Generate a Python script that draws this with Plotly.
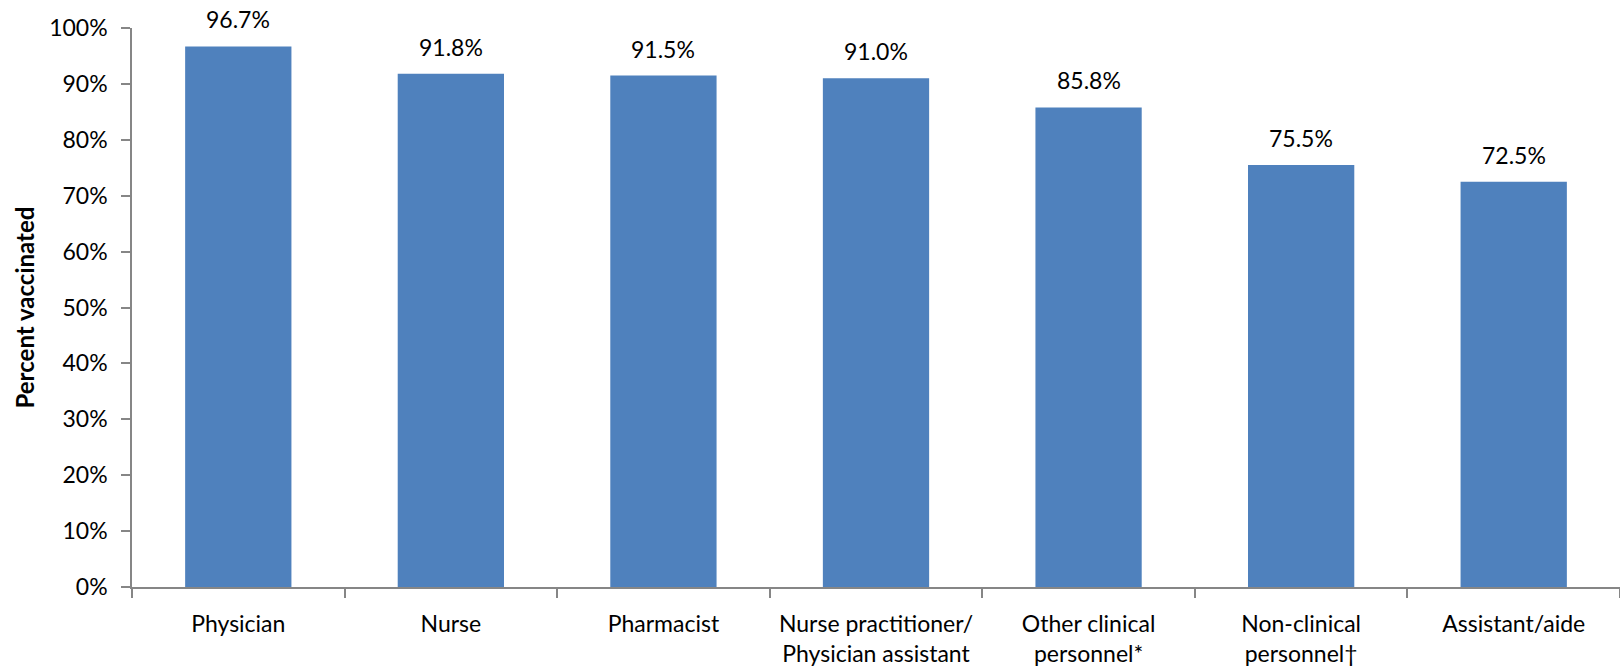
import plotly.graph_objects as go

categories = [
    "Physician",
    "Nurse",
    "Pharmacist",
    "Nurse practitioner/<br>Physician assistant",
    "Other clinical<br>personnel*",
    "Non-clinical<br>personnel\u2020",
    "Assistant/aide",
]
values = [96.7, 91.8, 91.5, 91.0, 85.8, 75.5, 72.5]
value_labels = ["96.7%", "91.8%", "91.5%", "91.0%", "85.8%", "75.5%", "72.5%"]
y_ticks = [0, 10, 20, 30, 40, 50, 60, 70, 80, 90, 100]
y_tick_labels = [f"{t}%" for t in y_ticks]
y_title = "Percent vaccinated"

FONT = "Lato"
FS = 23
fig = go.Figure()
fig.add_trace(go.Bar(
    x=categories, y=values,
    marker=dict(color="#4F81BD", line=dict(width=0)),
    hoverinfo="skip",
))
for c, v, t in zip(categories, values, value_labels):
    fig.add_annotation(x=c, y=v, text=t, showarrow=False, yanchor="bottom",
                       yshift=11, font=dict(family=FONT, size=FS, color="#000000"))

fig.add_annotation(xref="paper", yref="paper", x=0, y=0.5, xshift=-108,
                   text=f"<b>{y_title}</b>", textangle=-90, showarrow=False,
                   xanchor="center", yanchor="middle",
                   font=dict(family=FONT, size=24, color="#000000"))

fig.update_layout(
    width=1620, height=667,
    margin=dict(l=132, r=0, t=28, b=80),
    paper_bgcolor="white", plot_bgcolor="white",
    bargap=0.5, showlegend=False,
    font=dict(family=FONT, size=FS, color="#000000"),
)
fig.update_xaxes(
    automargin=False,
    showline=True, linecolor="#868686", linewidth=1.5,
    ticks="outside", ticklen=9, tickcolor="#868686", tickwidth=1.5,
    tickson="boundaries", showgrid=False,
    tickfont=dict(family=FONT, size=FS, color="#000000"),
    ticklabelstandoff=16,
)
fig.update_yaxes(
    automargin=False,
    range=[0, 100], tickvals=y_ticks, ticktext=y_tick_labels,
    showline=True, linecolor="#868686", linewidth=1.5,
    ticks="outside", ticklen=9, tickcolor="#868686", tickwidth=1.5,
    showgrid=False, zeroline=False,
    tickfont=dict(family=FONT, size=FS, color="#000000"),
    ticklabelstandoff=9,
)
fig.write_html("out.html", config={"displayModeBar": False},
               post_script="document.body.style.margin='0';")
